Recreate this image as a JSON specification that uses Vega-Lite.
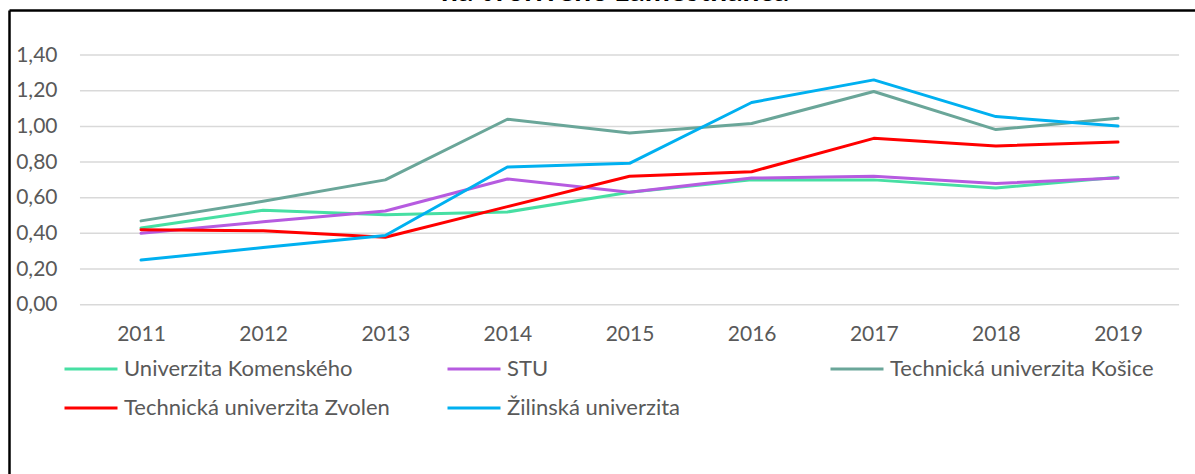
{
  "$schema": "https://vega.github.io/schema/vega-lite/v6.json",
  "width": 1186,
  "height": 464,
  "autosize": {"type": "none"},
  "padding": {"left": 9, "top": 10, "right": 0, "bottom": 0},
  "background": "white",
  "config": {
    "view": {"stroke": null},
    "font": "Lato",
    "axis": {"labelFont": "Lato", "labelFontSize": 21, "labelColor": "#595959", "title": null}
  },
  "title": {
    "text": "na tvorivého zamestnanca",
    "font": "Lato",
    "fontSize": 30,
    "fontWeight": "bold",
    "color": "#000000",
    "anchor": "middle",
    "baseline": "alphabetic",
    "offset": -21,
    "dx": 13
  },
  "data": {
    "values": [
      {"year": 2011, "series": "Univerzita Komenského", "value": 0.43},
      {"year": 2012, "series": "Univerzita Komenského", "value": 0.53},
      {"year": 2013, "series": "Univerzita Komenského", "value": 0.505},
      {"year": 2014, "series": "Univerzita Komenského", "value": 0.52},
      {"year": 2015, "series": "Univerzita Komenského", "value": 0.63},
      {"year": 2016, "series": "Univerzita Komenského", "value": 0.70},
      {"year": 2017, "series": "Univerzita Komenského", "value": 0.70},
      {"year": 2018, "series": "Univerzita Komenského", "value": 0.655},
      {"year": 2019, "series": "Univerzita Komenského", "value": 0.715},
      {"year": 2011, "series": "STU", "value": 0.40},
      {"year": 2012, "series": "STU", "value": 0.465},
      {"year": 2013, "series": "STU", "value": 0.525},
      {"year": 2014, "series": "STU", "value": 0.705},
      {"year": 2015, "series": "STU", "value": 0.63},
      {"year": 2016, "series": "STU", "value": 0.71},
      {"year": 2017, "series": "STU", "value": 0.72},
      {"year": 2018, "series": "STU", "value": 0.68},
      {"year": 2019, "series": "STU", "value": 0.71},
      {"year": 2011, "series": "Technická univerzita Košice", "value": 0.47},
      {"year": 2012, "series": "Technická univerzita Košice", "value": 0.58},
      {"year": 2013, "series": "Technická univerzita Košice", "value": 0.70},
      {"year": 2014, "series": "Technická univerzita Košice", "value": 1.04},
      {"year": 2015, "series": "Technická univerzita Košice", "value": 0.963},
      {"year": 2016, "series": "Technická univerzita Košice", "value": 1.016},
      {"year": 2017, "series": "Technická univerzita Košice", "value": 1.196},
      {"year": 2018, "series": "Technická univerzita Košice", "value": 0.982},
      {"year": 2019, "series": "Technická univerzita Košice", "value": 1.046},
      {"year": 2011, "series": "Technická univerzita Zvolen", "value": 0.42},
      {"year": 2012, "series": "Technická univerzita Zvolen", "value": 0.414},
      {"year": 2013, "series": "Technická univerzita Zvolen", "value": 0.378},
      {"year": 2014, "series": "Technická univerzita Zvolen", "value": 0.55},
      {"year": 2015, "series": "Technická univerzita Zvolen", "value": 0.72},
      {"year": 2016, "series": "Technická univerzita Zvolen", "value": 0.746},
      {"year": 2017, "series": "Technická univerzita Zvolen", "value": 0.933},
      {"year": 2018, "series": "Technická univerzita Zvolen", "value": 0.89},
      {"year": 2019, "series": "Technická univerzita Zvolen", "value": 0.912},
      {"year": 2011, "series": "Žilinská univerzita", "value": 0.25},
      {"year": 2012, "series": "Žilinská univerzita", "value": 0.32},
      {"year": 2013, "series": "Žilinská univerzita", "value": 0.388},
      {"year": 2014, "series": "Žilinská univerzita", "value": 0.772},
      {"year": 2015, "series": "Žilinská univerzita", "value": 0.793},
      {"year": 2016, "series": "Žilinská univerzita", "value": 1.134},
      {"year": 2017, "series": "Žilinská univerzita", "value": 1.261},
      {"year": 2018, "series": "Žilinská univerzita", "value": 1.055},
      {"year": 2019, "series": "Žilinská univerzita", "value": 1.002}
    ]
  },
  "layer": [
    {
      "data": {"values": [{"g": 0}, {"g": 0.2}, {"g": 0.4}, {"g": 0.6}, {"g": 0.8}, {"g": 1.0}, {"g": 1.2}, {"g": 1.4}]},
      "mark": {"type": "rule", "color": "#D9D9D9", "strokeWidth": 1.5},
      "encoding": {
        "y": {
          "field": "g", "type": "quantitative",
          "scale": {"domain": [-0.95, 1.653], "nice": false, "zero": false},
          "axis": {"orient": "left", "offset": 0, "title": null, "values": [0, 0.2, 0.4, 0.6, 0.8, 1.0, 1.2, 1.4], "labelExpr": "replace(format(datum.value, '.2f'), '.', ',')", "ticks": false, "tickSize": 0, "labelPadding": -48, "grid": false, "domain": true, "domainColor": "#000000", "domainWidth": 2.5, "labelFlush": false}
        },
        "x": {
          "datum": 2010.5, "type": "quantitative",
          "scale": {"domain": [2009.919, 2019.6305], "nice": false, "zero": false},
          "axis": {"orient": "top", "offset": 0, "title": null, "values": [2011, 2012, 2013, 2014, 2015, 2016, 2017, 2018, 2019], "format": "d", "labelBaseline": "bottom", "ticks": false, "tickSize": 0, "labelPadding": -334, "grid": false, "domain": true, "domainColor": "#000000", "domainWidth": 2.5, "labelFlush": false}
        },
        "x2": {"datum": 2019.5}
      }
    },
    {
      "mark": {"type": "line", "strokeWidth": 3, "strokeCap": "round", "strokeJoin": "round"},
      "encoding": {
        "x": {
          "field": "year", "type": "quantitative",
          "axis": {"orient": "top", "offset": 0, "title": null, "values": [2011, 2012, 2013, 2014, 2015, 2016, 2017, 2018, 2019], "format": "d", "labelBaseline": "bottom", "ticks": false, "tickSize": 0, "labelPadding": -334, "grid": false, "domain": true, "domainColor": "#000000", "domainWidth": 2.5, "labelFlush": false}
        },
        "y": {
          "field": "value", "type": "quantitative",
          "axis": {"orient": "left", "offset": 0, "title": null, "values": [0, 0.2, 0.4, 0.6, 0.8, 1.0, 1.2, 1.4], "labelExpr": "replace(format(datum.value, '.2f'), '.', ',')", "ticks": false, "tickSize": 0, "labelPadding": -48, "grid": false, "domain": true, "domainColor": "#000000", "domainWidth": 2.5, "labelFlush": false}
        },
        "color": {
          "field": "series", "type": "nominal",
          "scale": {
            "domain": ["Univerzita Komenského", "STU", "Technická univerzita Košice", "Technická univerzita Zvolen", "Žilinská univerzita"],
            "range": ["#47DFA3", "#B65BE0", "#6AA699", "#FF0000", "#00B0F0"]
          },
          "legend": {
            "title": null,
            "orient": "none",
            "legendX": 54,
            "legendY": 331,
            "direction": "horizontal",
            "columns": 3,
            "gridAlign": "all",
            "columnPadding": 51,
            "rowPadding": -29,
            "symbolType": "stroke",
            "symbolSize": 2809,
            "symbolStrokeWidth": 3,
            "labelOffset": 5,
            "labelFont": "Lato",
            "labelFontSize": 22,
            "labelColor": "#595959",
            "labelLimit": 400,
            "padding": 0
          }
        }
      }
    }
  ]
}
